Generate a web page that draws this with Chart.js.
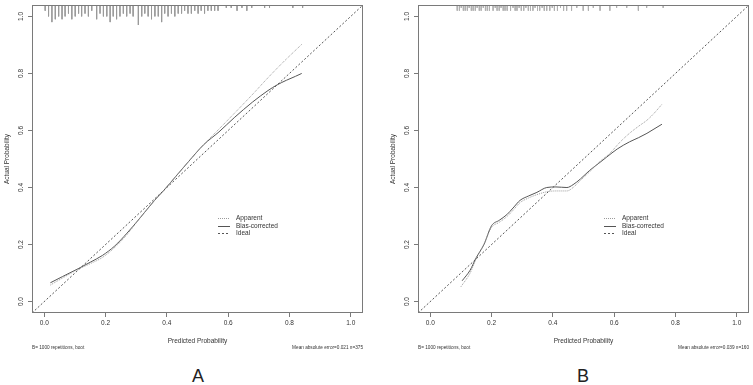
<!DOCTYPE html>
<html>
<head>
<meta charset="utf-8">
<title>Calibration curves</title>
<script src="https://cdn.jsdelivr.net/npm/chart.js@4.4.1/dist/chart.umd.min.js"></script>
<style>
    body { margin: 0; background: #fff; }
    #wrap { position: relative; width: 753px; height: 385px; overflow: hidden; font-family: "Liberation Sans", Arial, sans-serif; }
    #wrap canvas { position: absolute; top: 0; }
    #chartA { left: 0; }
    #chartB { left: 376px; }
    .panel-label { position: absolute; top: 365px; width: 40px; text-align: center; font-size: 18px; line-height: 22px; color: #222; }
</style>
</head>
<body>
<div id="wrap">
    <canvas id="chartA" width="376" height="355"></canvas>
    <canvas id="chartB" width="377" height="355"></canvas>
    <div class="panel-label" style="left:178px">A</div>
    <div class="panel-label" style="left:563px">B</div>
</div>
<script>
// axis settings
const axisMin = -0.04;
const axisMax = 1.04;
const tickValues = [0, 0.2, 0.4, 0.6, 0.8, 1.0];

// panel A
const apparentAx = [0.02, 0.06, 0.11, 0.15, 0.19, 0.23, 0.27, 0.31, 0.36, 0.39, 0.43, 0.47, 0.52, 0.57, 0.62, 0.68, 0.73, 0.78, 0.84];
const apparentAy = [0.058, 0.083, 0.113, 0.133, 0.155, 0.19, 0.235, 0.29, 0.355, 0.39, 0.44, 0.49, 0.55, 0.605, 0.66, 0.727, 0.785, 0.84, 0.902];
const biasAx = [0.02, 0.06, 0.11, 0.15, 0.19, 0.23, 0.27, 0.31, 0.36, 0.39, 0.43, 0.47, 0.52, 0.57, 0.62, 0.68, 0.73, 0.76, 0.79, 0.82, 0.84];
const biasAy = [0.066, 0.088, 0.115, 0.138, 0.162, 0.195, 0.24, 0.29, 0.355, 0.39, 0.44, 0.49, 0.55, 0.595, 0.645, 0.70, 0.74, 0.76, 0.776, 0.79, 0.80];
const rugAx = [0.003, 0.014, 0.025, 0.036, 0.047, 0.058, 0.068, 0.079, 0.090, 0.101, 0.112, 0.122, 0.133, 0.144, 0.155,
    0.171, 0.182, 0.193, 0.204, 0.215, 0.225, 0.236, 0.247, 0.258, 0.269, 0.280, 0.290, 0.307, 0.318, 0.328,
    0.339, 0.350, 0.361, 0.372, 0.383, 0.393, 0.404, 0.415, 0.426, 0.437, 0.448, 0.458, 0.469, 0.480, 0.491,
    0.502, 0.512, 0.523, 0.534, 0.545, 0.556, 0.567, 0.594, 0.610, 0.629, 0.645, 0.661, 0.677, 0.719, 0.735, 0.811, 0.843];
const rugAn = [2, 4, 6, 5, 4, 5, 4, 3, 5, 4, 3, 4, 3, 4, 2,
    5, 3, 4, 4, 6, 4, 5, 4, 3, 4, 3, 4, 7, 4, 3,
    4, 5, 4, 4, 6, 3, 4, 3, 4, 3, 3, 2, 3, 3, 2,
    3, 2, 3, 2, 2, 2, 2, 1, 1, 2, 1, 2, 1, 1, 1, 1, 1];
const noteA = 'Mean absolute error=0.021 n=375';

// panel B
const apparentBx = [0.10, 0.13, 0.15, 0.175, 0.2, 0.225, 0.25, 0.27, 0.293, 0.32, 0.348, 0.38, 0.41, 0.446, 0.466, 0.49, 0.52, 0.55, 0.586, 0.62, 0.65, 0.68, 0.707, 0.73, 0.756];
const apparentBy = [0.052, 0.10, 0.15, 0.2, 0.26, 0.278, 0.298, 0.32, 0.347, 0.363, 0.375, 0.385, 0.388, 0.388, 0.40, 0.425, 0.455, 0.488, 0.52, 0.56, 0.59, 0.615, 0.636, 0.66, 0.692];
const biasBx = [0.104, 0.13, 0.15, 0.175, 0.2, 0.225, 0.25, 0.27, 0.293, 0.32, 0.348, 0.38, 0.41, 0.446, 0.466, 0.49, 0.52, 0.55, 0.576, 0.61, 0.65, 0.68, 0.707, 0.73, 0.756];
const biasBy = [0.073, 0.11, 0.154, 0.2, 0.266, 0.285, 0.305, 0.328, 0.355, 0.37, 0.383, 0.40, 0.402, 0.40, 0.41, 0.43, 0.46, 0.485, 0.507, 0.535, 0.56, 0.575, 0.59, 0.605, 0.622];
const rugBx = [0.088, 0.095, 0.101, 0.108, 0.114, 0.121, 0.127, 0.134, 0.140, 0.147, 0.153, 0.160, 0.166, 0.173, 0.180,
    0.186, 0.193, 0.205, 0.212, 0.218, 0.225, 0.231, 0.238, 0.244, 0.251, 0.262, 0.270, 0.277, 0.283, 0.290,
    0.297, 0.305, 0.312, 0.320, 0.327, 0.335, 0.342, 0.350, 0.357, 0.365, 0.372, 0.380, 0.390, 0.398, 0.405,
    0.415, 0.425, 0.435, 0.445, 0.461, 0.478, 0.499, 0.516, 0.532, 0.554, 0.586, 0.608, 0.641, 0.679, 0.706, 0.760];
const rugBn = [2, 2, 1, 2, 2, 2, 1, 2, 2, 2, 1, 2, 2, 1, 2,
    2, 2, 2, 1, 2, 2, 1, 2, 2, 2, 2, 1, 2, 2, 1,
    2, 2, 1, 2, 2, 2, 1, 2, 2, 1, 2, 2, 2, 1, 2,
    2, 1, 2, 2, 2, 1, 2, 2, 1, 2, 2, 1, 1, 2, 1, 1];
const noteB = 'Mean absolute error=0.039 n=160';

const bootNote = 'B= 1000 repetitions, boot';
const legendLabels = ['Apparent', 'Bias-corrected', 'Ideal'];

const textColor = '#333';
const frameColor = '#7a7a7a';
const fontFamily = '"Liberation Sans", Arial, sans-serif';

function toPoints(xs, ys) {
    return xs.map((x, i) => ({ x: x, y: ys[i] }));
}

// spike histogram hanging from the top frame, one segment per bin
function rugPoints(xs, counts) {
    const unit = 0.01;
    const pts = [];
    xs.forEach((x, i) => {
        pts.push({ x: x, y: axisMax });
        pts.push({ x: x, y: axisMax - counts[i] * unit });
        pts.push({ x: x, y: null });
    });
    return pts;
}

const styles = {
    apparent: { color: '#9a9a9a', dash: [1, 1] },
    bias: { color: '#555', dash: [] },
    ideal: { color: '#555', dash: [2, 2] }
};

const rPlotDecor = {
    id: 'rPlotDecor',
    afterDraw(chart, args, opts) {
        const ctx = chart.ctx;
        const a = chart.chartArea;
        const yScale = chart.scales.y;
        ctx.save();

        // frame
        ctx.strokeStyle = frameColor;
        ctx.lineWidth = 1;
        ctx.setLineDash([]);
        ctx.strokeRect(Math.round(a.left) + 0.5, Math.round(a.top) + 0.5,
            Math.round(a.right - a.left) - 1, Math.round(a.bottom - a.top) - 1);

        // rotated y tick labels (R style)
        ctx.fillStyle = textColor;
        ctx.font = '6.5px ' + fontFamily;
        ctx.textAlign = 'center';
        ctx.textBaseline = 'middle';
        tickValues.forEach(v => {
            ctx.save();
            ctx.translate(a.left - 11, yScale.getPixelForValue(v));
            ctx.rotate(-Math.PI / 2);
            ctx.fillText(v.toFixed(1), 0, 0);
            ctx.restore();
        });

        // legend
        const keys = ['apparent', 'bias', 'ideal'];
        const lx = a.left + 186;
        const ly = a.top + 213;
        ctx.lineWidth = 1;
        ctx.textAlign = 'left';
        keys.forEach((k, i) => {
            const yy = Math.round(ly + i * 7.6) + 0.5;
            ctx.strokeStyle = styles[k].color;
            ctx.setLineDash(styles[k].dash);
            ctx.beginPath();
            ctx.moveTo(lx, yy);
            ctx.lineTo(lx + 12, yy);
            ctx.stroke();
            ctx.fillStyle = textColor;
            ctx.fillText(legendLabels[i], lx + 18, yy);
        });
        ctx.setLineDash([]);

        // footnotes
        ctx.font = '4.7px ' + fontFamily;
        ctx.fillStyle = textColor;
        ctx.textAlign = 'left';
        ctx.fillText(bootNote, a.left, 348);
        ctx.textAlign = 'right';
        ctx.fillText(opts.note, a.right, 348);
        ctx.restore();
    }
};

function makeChart(canvasId, panel) {
    const ctx = document.getElementById(canvasId);
    return new Chart(ctx, {
        type: 'scatter',
        data: {
            datasets: [
                {
                    label: 'rug',
                    data: rugPoints(panel.rugX, panel.rugN),
                    showLine: true,
                    spanGaps: false,
                    borderColor: panel.rugColor,
                    borderWidth: 1,
                    pointRadius: 0
                },
                {
                    label: 'Ideal',
                    data: [{ x: axisMin, y: axisMin }, { x: axisMax, y: axisMax }],
                    showLine: true,
                    borderColor: styles.ideal.color,
                    borderDash: styles.ideal.dash,
                    borderWidth: 1,
                    pointRadius: 0
                },
                {
                    label: 'Apparent',
                    data: toPoints(panel.appX, panel.appY),
                    showLine: true,
                    borderColor: styles.apparent.color,
                    borderDash: styles.apparent.dash,
                    borderWidth: 1,
                    pointRadius: 0,
                    cubicInterpolationMode: 'monotone'
                },
                {
                    label: 'Bias-corrected',
                    data: toPoints(panel.biasX, panel.biasY),
                    showLine: true,
                    borderColor: styles.bias.color,
                    borderWidth: 1,
                    pointRadius: 0,
                    cubicInterpolationMode: 'monotone'
                }
            ]
        },
        options: {
            responsive: false,
            animation: false,
            devicePixelRatio: 1,
            layout: { padding: panel.padding },
            plugins: {
                legend: { display: false },
                tooltip: { enabled: false },
                rPlotDecor: { note: panel.note }
            },
            scales: {
                x: {
                    type: 'linear',
                    min: axisMin,
                    max: axisMax,
                    afterBuildTicks: s => { s.ticks = tickValues.map(v => ({ value: v })); },
                    afterFit: s => { s.height = 32; },
                    grid: { display: true, drawOnChartArea: false, drawTicks: true, tickLength: 4, color: frameColor },
                    border: { display: false },
                    ticks: {
                        color: textColor,
                        font: { size: 6.5, family: fontFamily },
                        padding: 2,
                        maxRotation: 0,
                        callback: v => Number(v).toFixed(1)
                    },
                    title: {
                        display: true,
                        text: 'Predicted Probability',
                        color: textColor,
                        font: { size: 6.5, family: fontFamily },
                        padding: { top: 0, bottom: 0 }
                    }
                },
                y: {
                    type: 'linear',
                    min: axisMin,
                    max: axisMax,
                    afterBuildTicks: s => { s.ticks = tickValues.map(v => ({ value: v })); },
                    afterFit: s => { s.width = 32; },
                    grid: { display: true, drawOnChartArea: false, drawTicks: true, tickLength: 4, color: frameColor },
                    border: { display: false },
                    ticks: { display: false },
                    title: {
                        display: true,
                        text: 'Actual Probability',
                        color: textColor,
                        font: { size: 6.5, family: fontFamily },
                        padding: { top: 3, bottom: 0 }
                    }
                }
            }
        },
        plugins: [rPlotDecor]
    });
}

document.addEventListener('DOMContentLoaded', () => {
    makeChart('chartA', {
        appX: apparentAx, appY: apparentAy,
        biasX: biasAx, biasY: biasAy,
        rugX: rugAx, rugN: rugAn, rugColor: '#9a9a9a',
        note: noteA,
        padding: { left: 0, right: 13, top: 5, bottom: 10 }
    });
    makeChart('chartB', {
        appX: apparentBx, appY: apparentBy,
        biasX: biasBx, biasY: biasBy,
        rugX: rugBx, rugN: rugBn, rugColor: '#b0b0b0',
        note: noteB,
        padding: { left: 10, right: 4, top: 5, bottom: 10 }
    });
});
</script>
</body>
</html>
